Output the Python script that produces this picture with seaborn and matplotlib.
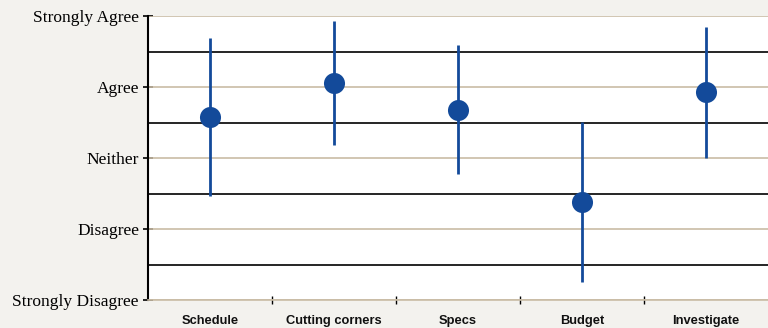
"""
Likert-scale means with ranges, recreated with seaborn.
"""

import matplotlib
matplotlib.use("Agg")
import matplotlib.pyplot as plt
import seaborn as sns
import pandas as pd
import numpy as np

# Data
categories = ["Schedule", "Cutting corners", "Specs", "Budget", "Investigate"]
means = [3.58, 4.06, 3.68, 2.38, 3.93]
low = [2.46, 3.18, 2.77, 1.25, 3.00]
high = [4.69, 4.93, 4.59, 3.51, 4.85]
level_labels = ["Strongly Disagree", "Disagree", "Neither", "Agree", "Strongly Agree"]
level_values = [1, 2, 3, 4, 5]

BG = "#f3f2ee"
TAN = "#c9bca5"
BLUE = "#134a9a"

sns.set_style("white")
plt.rcParams['text.color'] = 'black'
plt.rcParams['xtick.color'] = 'black'
plt.rcParams['ytick.color'] = 'black'

df = pd.DataFrame({"category": categories, "mean": means, "low": low, "high": high})

fig = plt.figure(figsize=(7.68, 3.28), dpi=100, facecolor=BG)
ax = fig.add_axes([148 / 768, 28 / 328, 620 / 768, 284 / 328])
ax.set_facecolor("white")

x = np.arange(len(categories))

# gridlines: tan at the labelled levels, black halfway between
for v in level_values:
    ax.axhline(v, color=TAN, lw=1.2, zorder=1)
for v in [1.5, 2.5, 3.5, 4.5]:
    ax.axhline(v, color="black", lw=1.2, zorder=1)

ax.vlines(x, df["low"], df["high"], color=BLUE, lw=2, zorder=3)
sns.scatterplot(data=df, x=x, y="mean", color=BLUE, s=230, edgecolor=BLUE,
                linewidth=0, zorder=4, ax=ax, legend=False)

ax.set_xlim(-0.5, len(categories) - 0.5)
ax.set_ylim(1, 5)

ax.set_yticks(level_values)
ax.set_yticklabels(level_labels, family="Liberation Serif", fontsize=12.5, color="black")
ax.tick_params(axis="y", direction="inout", length=7, width=1.2, color="black", pad=3, left=True)

ax.set_xticks(x)
ax.set_xticklabels(categories, family="Liberation Sans", fontweight="bold", fontsize=9.3,
                   color="#111111")
ax.set_xticks(np.arange(0.5, len(categories) - 1, 1), minor=True)
ax.tick_params(axis="x", which="major", length=0, pad=11)
ax.tick_params(axis="x", which="minor", direction="inout", length=6, width=1, color="black",
               bottom=True)

for side in ["top", "right"]:
    ax.spines[side].set_visible(False)
ax.spines["left"].set_color("black")
ax.spines["left"].set_linewidth(1.5)
ax.spines["bottom"].set_color(TAN)
ax.spines["bottom"].set_linewidth(1.2)

ax.set_xlabel("")
ax.set_ylabel("")

plt.savefig("out.png", dpi=100, facecolor=BG)
